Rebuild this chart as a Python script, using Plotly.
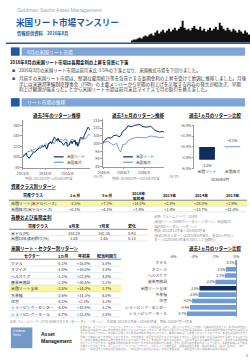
import plotly.graph_objects as go
import pandas as pd

W, H = 250, 361
def X(px): return px / W
def Y(py): return 1 - py / H

NAVY = "#0e2d5c"
LIGHT = "#6e9bd6"
BLUE = "#1d5aa6"
BAR = "#7ea4d8"
YEL = "#fcf69c"
TXT = "#333333"
GRAY = "#8a8a8a"
FAM = "Noto Sans CJK JP, Liberation Sans, sans-serif"

# ---------------- data ----------------
reit_3y = [100.0,
    101.5, 103.1, 106.0, 107.5, 101.0, 100.2, 97.5, 100.6,
    103.5, 104.9, 108.0, 110.2, 109.0, 110.8, 112.5, 114.4, 116.5, 117.4, 117.0, 118.6,
    120.0, 118.8, 121.0, 122.7, 119.0, 115.0, 121.5, 126.3, 126.0, 128.6, 125.5, 128.8,
    134.0, 137.9, 135.0, 133.3, 131.0, 135.6, 132.0, 128.0, 130.0, 127.9, 124.0, 122.3,
    125.5, 128.1, 127.5, 120.1, 121.5, 123.0, 127.5, 130.2, 125.0, 129.9, 128.0, 132.4,
    124.0, 128.4, 121.0, 124.5, 132.0, 137.0, 136.5, 136.0, 135.0, 140.8, 144.0, 148.5,
    153.0, 156.4, 154.5, 150.9]
stock_3y = [100.0,
    103.5, 103.1, 105.0, 107.9, 109.8, 111.1, 109.5, 113.9,
    114.5, 110.0, 113.0, 115.0, 114.0, 116.0, 114.2, 116.8, 117.5, 119.6, 120.5, 122.0,
    123.0, 120.3, 122.0, 125.1, 125.8, 123.4, 118.5, 126.4, 128.5, 129.8, 124.5, 129.5,
    126.0, 125.6, 130.5, 132.8, 130.0, 130.7, 131.8, 132.0, 133.5, 133.6, 132.5, 131.0,
    133.5, 133.8, 134.0, 125.7, 124.5, 122.6, 128.0, 133.0, 133.5, 133.4, 130.5, 131.3,
    122.5, 124.8, 119.5, 124.6, 130.5, 133.1, 134.5, 133.6, 133.0, 135.9, 134.5, 136.3,
    139.5, 141.4, 142.8, 141.5]
months = pd.date_range("2013-09-01", "2016-08-01", freq="MS")
dates_3y = ["2013-08-31"]
for m in months:
    dates_3y.append(m.replace(day=15).strftime("%Y-%m-%d"))
    dates_3y.append((m + pd.offsets.MonthEnd(0)).strftime("%Y-%m-%d"))
ticks_3y = ["2013-08-31", "2014-08-31", "2015-08-31"]
ticklab_3y = ["2013/8", "2014/8", "2015/8"]

dates_3m = ["2016-05-31", "2016-06-03", "2016-06-08", "2016-06-13", "2016-06-16", "2016-06-21",
            "2016-06-24", "2016-06-27", "2016-06-30", "2016-07-05", "2016-07-08", "2016-07-13",
            "2016-07-18", "2016-07-21", "2016-07-26", "2016-07-29", "2016-08-03", "2016-08-08",
            "2016-08-11", "2016-08-16", "2016-08-19", "2016-08-24", "2016-08-29", "2016-08-31"]
reit_3m = [100.0, 102.0, 103.8, 103.5, 105.0, 105.5, 104.2, 105.0, 107.8, 109.5, 111.5, 110.8,
           111.8, 112.0, 112.3, 111.1, 110.6, 110.8, 111.2, 109.0, 108.2, 107.5, 107.8, 107.2]
stock_3m = [100.0, 100.8, 101.3, 99.5, 99.0, 100.2, 96.3, 94.5, 99.2, 99.8, 101.8, 103.0,
            103.8, 104.0, 103.9, 104.0, 103.7, 104.4, 104.8, 104.6, 104.4, 103.8, 104.0, 104.1]
ticks_3m = ["2016-06-01", "2016-07-01", "2016-08-01"]
ticklab_3m = ["2016/6", "2016/7", "2016/8"]

series_names = ["米国リート", "米国株式"]
ret_1m = [-3.5, 0.1]

asset_cols = ["1ヵ月", "3ヵ月", "2016年<br>年初来", "2015年", "2014年", "2013年"]
asset_rows = ["米国リート(米ドルベース)", "米国株式(米ドルベース)"]
asset_vals = [[-3.5, 7.2, 14.0, 2.8, 28.0, 2.9],
              [0.1, 4.1, 7.8, 1.4, 13.7, 32.4]]

fx_cols = ["8月末", "7月末", "変化"]
fx_rows = ["米ドル(円)", "米国10年債利回り(%)"]
fx_vals = [[103.28, 102.35, 0.93], [1.58, 1.45, 0.13]]

sectors = ["ホテル", "オフィス", "ヘルスケア", "産業用施設", "米国リート全体", "多業種", "住宅",
           "ショッピング・センター", "ショッピング・モール"]
sec_1m = [-0.1, -1.0, -1.1, -2.0, -3.5, -3.6, -4.2, -4.4, -4.7]
sec_ytd = [15.8, 16.0, 21.8, 30.5, 14.0, 14.3, 2.1, 10.8, 11.8]
sec_yld = [5.8, 3.8, 4.8, 3.2, 3.7, 6.5, 3.3, 3.2, 3.8]
sec_cols = ["セクター", "1ヵ月", "年初来", "配当利回り"]

skyline = [2,3,3,4,5,4,6,7,6,8,9,7,10,12,9,11,13,10,12,14,11,13,15,12,14,16,22,15,13,14,12,
           15,17,14,13,16,12,14,11,13,15,12,14,16,13,20,17,14,12,15,13,11,14,12,10,13,11,9,12,10,8]

# ---------------- helpers ----------------
ann, shapes = [], []
def T(x, y, s, size=4.0, color=TXT, anchor="left", bold=False, under=False, family=FAM):
    if bold:
        s = "<b>" + s + "</b>"
    font = dict(size=size, color=color, family=family)
    if under:
        font["lineposition"] = "under"
    ann.append(dict(x=X(x), y=Y(y), xref="paper", yref="paper", text=s, showarrow=False,
                    xanchor=anchor, yanchor="middle", font=font, borderpad=0))

def R(x0, y0, x1, y1, fill, layer="below"):
    shapes.append(dict(type="rect", xref="paper", yref="paper", x0=X(x0), x1=X(x1),
                       y0=Y(y1), y1=Y(y0), fillcolor=fill, line=dict(width=0), layer=layer))

def L(x0, y0, x1, y1, color, w=0.5):
    shapes.append(dict(type="line", xref="paper", yref="paper", x0=X(x0), x1=X(x1),
                       y0=Y(y0), y1=Y(y1), line=dict(color=color, width=w)))

# ---------------- header ----------------
T(10, 7, "Goldman Sachs Asset Management", 5.3, "#9aa6b8", family="Liberation Sans, sans-serif")
T(9, 19.5, "米国リート市場マンスリー", 8.6, BLUE, bold=True)
T(10, 31, "情報提供資料　2016年8月", 4.3, BLUE, bold=True)
p = "M %f,%f" % (X(128), Y(40))
xx = 128.0
for h in skyline:
    p += " L %f,%f L %f,%f" % (X(xx), Y(40 - h), X(xx + 2), Y(40 - h))
    xx += 2
p += " L %f,%f Z" % (X(xx), Y(40))
shapes.append(dict(type="path", path=p, xref="paper", yref="paper", fillcolor="#111111",
                   line=dict(width=0)))
L(0, 40.8, 250, 40.8, BLUE, 1.5)

def section(y0, label):
    R(5, y0, 14, y0 + 8.5, BLUE)
    R(16, y0, 245, y0 + 8.5, BAR)
    T(21, y0 + 4.3, label, 4.8, "white")

section(45, "8月の米国リート市場")
T(3, 60, "2016年8月の米国リート市場は長期金利の上昇を背景に下落", 4.4, "#111", bold=True)
T(5, 68.5, "■", 3.2, BLUE)
T(12, 68.5, "2016年8月の米国リート市場は前月末比-3.5%の下落となり、米国株式市場を下回りました。", 4.4, TXT)
T(5, 77, "■", 3.2, BLUE)
T(12, 77, "月前半の米国リート市場は、堅調な雇用統計等を背景とする長期金利の上昇を受けて軟調に推移しました。月後", 4.55, TXT)
T(12, 82.5, "半には米連邦準備制度理事会（FRB）の主要メンバーから早期の利上げを示唆する内容の発言が相次ぎ、早期", 4.55, TXT)
T(12, 88, "利上げ観測が強まったことから米国リート市場は前月末比マイナスで月の取引を終えました。", 4.55, TXT)
section(96.5, "リート市場の推移")

T(52, 114, "過去3年のリターン推移", 4.5, "#111", "center", bold=True, under=True)
T(135, 114, "過去3ヵ月のリターン推移", 4.5, "#111", "center", bold=True, under=True)
T(214, 114, "過去1ヵ月のリターン比較", 4.5, "#111", "center", bold=True, under=True)
T(44, 177.5, "期間: 2013年8月～2016年8月末", 3.4, GRAY, "center")
T(94, 175.5, "(年/月)", 3.4, GRAY, "center")
T(133, 177.5, "期間: 2016年5月～2016年8月末", 3.4, GRAY, "center")
T(172, 175.5, "(年/月)", 3.4, GRAY, "center")
T(219, 179, "2016年8月", 3.8, TXT, "center")

for lx, tx in [(49, 61), (120, 132)]:
    L(lx, 156, lx + 10, 156, NAVY, 1.2)
    T(tx, 156, series_names[0], 3.6, TXT)
    L(lx, 161.5, lx + 10, 161.5, LIGHT, 1.2)
    T(tx, 161.5, series_names[1], 3.6, TXT)

# ---------------- asset class table ----------------
T(4, 186, "資産クラス別リターン", 4.5, "#111", bold=True, under=True)
acx = [71, 103, 136, 168, 200, 232]
T(28, 195, "資産クラス", 4.0, "#111", "center", bold=True)
for cx, c in zip(acx, asset_cols):
    T(cx, 195, c, 3.9, "#111", "center", bold=True)
L(3, 200, 247, 200, "#555", 0.7)
row_y = [203.3, 208.9]
R(3, 200.4, 247, 206.1, YEL)
for ry, name, vals in zip(row_y, asset_rows, asset_vals):
    T(4, ry, name, 3.9, TXT)
    for cx, v in zip(acx, vals):
        T(cx, ry, f"{v:+.1f}%", 3.9, TXT, "center")
L(3, 206.1, 247, 206.1, "#c9d3e3", 0.5)
L(3, 211.7, 247, 211.7, "#c9d3e3", 0.5)

# ---------------- fx table ----------------
T(4, 218, "為替および長期金利", 4.5, "#111", bold=True, under=True)
fxx = [70, 100, 129]
T(33, 226, "資産クラス", 4.0, "#111", "center", bold=True)
for cx, c in zip(fxx, fx_cols):
    T(cx, 226, c, 4.0, "#111", "center", bold=True)
L(3, 229.5, 145, 229.5, "#555", 0.7)
for ry, name, vals in zip([232.8, 238.5], fx_rows, fx_vals):
    T(4, ry, name, 3.9, TXT)
    for cx, v in zip(fxx, vals):
        T(cx, ry, f"{v:.2f}", 3.9, TXT, "center")
    L(3, ry + 2.8, 145, ry + 2.8, "#c9d3e3", 0.5)

notes = ["出所: ブルームバーグ、GSAM",
         "(米国リート: NAREITトータル・リターン、米国株式:",
         "S&P500トータル・リターン)",
         "期間: 2012年12月末～2016年8月末",
         "(過去3年のリターンは2013年8月末を、過去3ヵ月のリ",
         "ターンは2016年5月末を100として指数化)"]
for i, s in enumerate(notes):
    T(151, 217 + i * 4.6, s, 3.3, GRAY)

# ---------------- sector table ----------------
T(4, 249, "米国リート・セクター別リターン", 4.5, "#111", bold=True, under=True)
T(214, 249, "過去1ヵ月のリターン比較", 4.5, "#111", "center", bold=True, under=True)
ROW0, DY = 263.5, 6.45
scx = [27, 58, 80, 103]
for cx, c in zip(scx, sec_cols):
    T(cx, 257, c, 4.0, "#111", "center", bold=True)
L(3, 259.8, 118, 259.8, "#555", 0.7)
for i, s in enumerate(sectors):
    ry = ROW0 + i * DY
    if s == "米国リート全体":
        R(3, ry - DY / 2, 118, ry + DY / 2, YEL)
    T(4, ry, s, 3.9, TXT)
    T(scx[1], ry, f"{sec_1m[i]:+.1f}%", 3.9, TXT, "center")
    T(scx[2], ry, f"{sec_ytd[i]:+.1f}%", 3.9, TXT, "center")
    T(scx[3], ry, f"{sec_yld[i]:.1f}%", 3.9, TXT, "center")
    L(3, ry + DY / 2, 118, ry + DY / 2, "#c9d3e3", 0.5)
T(3, 322.5, "出所: ブルームバーグ（FTSE NAREITセクター別トータル・リターン）、年初来: 2015年12月末～2016年8月末、期間: 2016年7月～8月末", 3.0, GRAY)

# ---------------- footer ----------------
R(5, 329, 27, 350, "#7399c6")
T(6.5, 333, "Goldman", 3.3, "white", family="Liberation Serif, serif")
T(6.5, 337, "Sachs", 3.3, "white", family="Liberation Serif, serif")
T(35, 336, "Asset", 5.0, "#111", bold=True, family="Liberation Sans, sans-serif")
T(35, 343, "Management", 5.0, "#111", bold=True, family="Liberation Sans, sans-serif")
disc = ("本資料は、ゴールドマン・サックス・アセット・マネジメント株式会社（以下、当社といいます。）が作成した情報提供資料です。"
        "本資料は特定の金融商品の勧誘または売買の推奨を目的とするものではありません。本資料に記載された過去の運用実績は、"
        "将来の運用成果等を示唆または保証するものではありません。本資料に記載された見解は作成日現在のものであり、事前の連絡なしに"
        "変更されることがあります。本資料は信頼できると判断した情報に基づき作成しておりますが、その正確性・完全性を保証するもの"
        "ではありません。個別企業等への言及は例示を目的とするものであり、特定の有価証券等の売買を推奨するものではありません。"
        "本資料の一部または全部を、当社の書面による事前の承諾なく、複製または再配布等を行うことを禁じます。指数等の知的財産権"
        "その他一切の権利は各算出元に帰属します。投資には元本割れのリスクがあり、為替変動等により損失を被ることがあります。"
        "ゴールドマン・サックス・アセット・マネジメント株式会社　金融商品取引業者　関東財務局長（金商）第325号　加入協会：一般社団法人"
        "日本投資顧問業協会、一般社団法人投資信託協会、日本証券業協会、一般社団法人第二種金融商品取引業協会")
n = 66
for i in range(9):
    T(75, 328.5 + i * 3.25, disc[i * n:(i + 1) * n], 2.55, "#9a9a9a")
T(247, 357.5, "1", 3.5, TXT, "center")

# ---------------- traces ----------------
fig = go.Figure()
fig.add_trace(go.Scatter(x=dates_3y, y=stock_3y, mode="lines", line=dict(color=LIGHT, width=1),
                         xaxis="x", yaxis="y", name=series_names[1]))
fig.add_trace(go.Scatter(x=dates_3y, y=reit_3y, mode="lines", line=dict(color=NAVY, width=1),
                         xaxis="x", yaxis="y", name=series_names[0]))
fig.add_trace(go.Scatter(x=dates_3m, y=stock_3m, mode="lines", line=dict(color=LIGHT, width=1),
                         xaxis="x2", yaxis="y2", name=series_names[1]))
fig.add_trace(go.Scatter(x=dates_3m, y=reit_3m, mode="lines", line=dict(color=NAVY, width=1),
                         xaxis="x2", yaxis="y2", name=series_names[0]))
fig.add_trace(go.Bar(x=series_names, y=ret_1m, marker=dict(color=[NAVY, LIGHT], line=dict(width=0)),
                     width=0.62, text=[f"{v:+.1f}%" for v in ret_1m], textposition="outside",
                     textfont=dict(size=3.6, color=TXT, family=FAM), cliponaxis=False,
                     xaxis="x3", yaxis="y3"))
fig.add_trace(go.Bar(y=sectors, x=sec_1m, orientation="h",
                     marker=dict(color=[NAVY if s == "米国リート全体" else LIGHT for s in sectors],
                                 line=dict(width=0)),
                     width=0.72, text=[f"{v:.1f}%" for v in sec_1m], textposition="outside",
                     textfont=dict(size=3.6, color=TXT, family=FAM), cliponaxis=False,
                     xaxis="x4", yaxis="y4"))

ax = dict(showline=True, linecolor="#9a9a9a", linewidth=0.6, ticks="outside", ticklen=1.5,
          tickwidth=0.5, tickcolor="#9a9a9a", showgrid=False, zeroline=False,
          tickfont=dict(size=3.8, color="#444", family=FAM))

fig.update_layout(
    width=W, height=H, margin=dict(l=0, r=0, t=0, b=0), paper_bgcolor="white",
    plot_bgcolor="white", showlegend=False, font=dict(family=FAM),
    xaxis=dict(ax, domain=[X(17), X(86)], anchor="y", type="date",
               range=["2013-08-31", "2016-08-31"], tickvals=ticks_3y, ticktext=ticklab_3y),
    yaxis=dict(ax, domain=[Y(167), Y(118.6)], anchor="x", range=[80, 170],
               tickvals=[80, 100, 120, 140, 160]),
    xaxis2=dict(ax, domain=[X(99), X(162)], anchor="y2", type="date",
                range=["2016-05-31", "2016-08-31"], tickvals=ticks_3m, ticktext=ticklab_3m),
    yaxis2=dict(ax, domain=[Y(166), Y(117.4)], anchor="x2", range=[85, 116],
                tickvals=[85, 90, 95, 100, 105, 110, 115]),
    xaxis3=dict(ax, domain=[X(193), X(245)], anchor="y3", range=[-0.5, 1.5],
                showline=False, ticks=""),
    yaxis3=dict(ax, domain=[Y(168), Y(124)], anchor="x3", range=[-6, 6],
                tickvals=[-6, -3, 0, 3, 6],
                ticktext=["-6.0%", "-3.0%", "+0.0%", "+3.0%", "+6.0%"]),
    xaxis4=dict(ax, domain=[X(168), X(242)], anchor="y4", range=[-6.3, 0.55], side="top",
                tickvals=[-6, -4, -2, 0], ticktext=["-6%", "-4%", "-2%", "0%"],
                showline=False, ticks="", zeroline=True, zerolinecolor="#9a9a9a",
                zerolinewidth=0.6),
    yaxis4=dict(ax, domain=[Y(ROW0 + 8 * DY + DY / 2), Y(ROW0 - DY / 2)], anchor="x4",
                autorange="reversed", showline=False, ticks="", ticklabelstandoff=2),
    annotations=ann, shapes=shapes, bargap=0.3,
)
fig.write_html("out.html")
